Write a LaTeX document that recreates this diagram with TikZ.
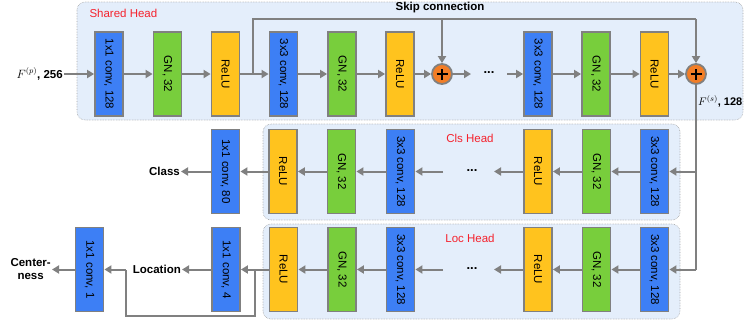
\documentclass[tikz,border=0pt]{standalone}
\usepackage{fontspec}
\usepackage{graphicx}
\setmainfont{Liberation Sans}
\usetikzlibrary{arrows.meta}
\definecolor{cblue}{HTML}{3D7FF5}
\definecolor{cgreen}{HTML}{78CE3C}
\definecolor{cyellow}{HTML}{FFC31E}
\definecolor{corange}{HTML}{F27D26}
\definecolor{cbg}{HTML}{E4EEFB}
\definecolor{cline}{HTML}{808080}
\definecolor{cred}{HTML}{F5222D}
\tikzset{
  blk/.style={draw=cline, line width=1.8pt, minimum width=28pt, minimum height=84pt, inner sep=0pt, font=\fontsize{11.5}{13}\selectfont},
  bl/.style={blk, fill=cblue},
  gn/.style={blk, fill=cgreen},
  re/.style={blk, fill=cyellow},
  plusnode/.style={circle, draw=cline, line width=1.8pt, fill=corange, minimum size=20pt, inner sep=0pt},
  bgbox/.style={draw=cline!70, densely dotted, line width=0.6pt, fill=cbg, rounded corners=8pt},
  arr/.style={draw=cline, line width=2pt, -{Triangle[length=7pt,width=8pt]}},
  ln/.style={draw=cline, line width=2pt},
  headlbl/.style={text=cred, font=\fontsize{11.5}{13}\selectfont},
  lbl/.style={font=\bfseries\fontsize{11.5}{13}\selectfont, inner sep=1pt},
  dots/.style={font=\bfseries\fontsize{13}{14}\selectfont, inner sep=0pt}
}
\newcommand{\rt}[1]{\rotatebox{-90}{#1}}
\begin{document}
\begin{tikzpicture}[x=1pt,y=-1pt]
\useasboundingbox (0,0) rectangle (744,325);
% backgrounds
\draw[bgbox] (77,2) rectangle (743,120);
\draw[bgbox] (263,124) rectangle (680,220);
\draw[bgbox] (263,224) rectangle (680,319);
\node[headlbl, anchor=west] (shl) at (86,13) {Shared Head};
\node[headlbl] (cll) at (470,138) {Cls Head};
\node[headlbl] (lcl) at (470,238) {Loc Head};
\node[lbl] (skl) at (440,8) {Skip connection};

% row 1
\node[bl] (a1) at (109,74) {\rt{1x1 conv, 128}};
\node[gn] (a2) at (167.5,74) {\rt{GN, 32}};
\node[re] (a3) at (225.5,74) {\rt{ReLU}};
\node[bl] (a4) at (283.5,74) {\rt{3x3 conv, 128}};
\node[gn] (a5) at (342,74) {\rt{GN, 32}};
\node[re] (a6) at (400,74) {\rt{ReLU}};
\node[plusnode] (p1) at (442,74) {};
\node[dots] (d1) at (489,73) {...};
\node[bl] (a7) at (538,74) {\rt{3x3 conv, 128}};
\node[gn] (a8) at (596,74) {\rt{GN, 32}};
\node[re] (a9) at (654.5,74) {\rt{ReLU}};
\node[plusnode] (p2) at (696,74) {};
\foreach \p in {p1,p2}{
  \draw[line width=1.8pt] ([xshift=-5.5pt]\p.center) -- ([xshift=5.5pt]\p.center);
  \draw[line width=1.8pt] ([yshift=-5.5pt]\p.center) -- ([yshift=5.5pt]\p.center);
}
\node[anchor=east, inner sep=1pt, font=\fontsize{11.5}{13}\selectfont] (fp) at (64,74) {$F^{(p)}$\textbf{, 256}};
\node[anchor=east, inner sep=0pt, font=\fontsize{11}{13}\selectfont] (fs) at (742.5,101) {$F^{(s)}$\textbf{, 128}};

\draw[arr] (fp.east) -- (a1.west);
\draw[arr] (a1) -- (a2);
\draw[arr] (a2) -- (a3);
\draw[arr] (a3) -- (a4);
\draw[arr] (a4) -- (a5);
\draw[arr] (a5) -- (a6);
\draw[arr] (a6) -- (p1);
\coordinate (d1w) at (471,74);
\coordinate (d1e) at (507,74);
\draw[arr] (p1.east) -- (d1w);
\draw[arr] (d1e) -- (a7.west);
\draw[arr] (a7) -- (a8);
\draw[arr] (a8) -- (a9);
\draw[arr] (a9) -- (p2);
% skip
\coordinate (s0) at (253,74);
\coordinate (s1) at (253,19);
\coordinate (s2) at (696,19);
\coordinate (s3) at (442,19);
\draw[ln] (s0) -- (s1) -- (s2);
\draw[arr] (s2) -- (p2.north);
\draw[arr] (s3) -- (p1.north);

% row 2 (cls)
\node[bl] (b1) at (654.5,171.5) {\rt{3x3 conv, 128}};
\node[gn] (b2) at (596.5,171.5) {\rt{GN, 32}};
\node[re] (b3) at (538,171.5) {\rt{ReLU}};
\node[dots] (d2) at (472,170.5) {...};
\node[bl] (b4) at (400.5,171.5) {\rt{3x3 conv, 128}};
\node[gn] (b5) at (341.5,171.5) {\rt{GN, 32}};
\node[re] (b6) at (283,171.5) {\rt{ReLU}};
\node[bl] (b7) at (225.5,171.5) {\rt{1x1 conv, 80}};
\node[lbl, anchor=east] (cls) at (181,171.5) {Class};
\coordinate (v2) at (696,171.5);
\coordinate (v3) at (696,269.5);
\draw[ln] (p2.south) -- (v3);
\draw[arr] (v2) -- (b1.east);
\draw[arr] (b1) -- (b2);
\draw[arr] (b2) -- (b3);
\coordinate (d2e) at (494,171.5);
\coordinate (d2w) at (443,171.5);
\draw[arr] (b3.west) -- (d2e);
\draw[arr] (d2w) -- (b4.east);
\draw[arr] (b4) -- (b5);
\draw[arr] (b5) -- (b6);
\draw[arr] (b6) -- (b7);
\draw[arr] (b7.west) -- (cls.east);

% row 3 (loc)
\node[bl] (c1) at (654.5,269.5) {\rt{3x3 conv, 128}};
\node[gn] (c2) at (596.5,269.5) {\rt{GN, 32}};
\node[re] (c3) at (538,269.5) {\rt{ReLU}};
\node[dots] (d3) at (472,268.5) {...};
\node[bl] (c4) at (400.5,269.5) {\rt{3x3 conv, 128}};
\node[gn] (c5) at (342,269.5) {\rt{GN, 32}};
\node[re] (c6) at (283.5,269.5) {\rt{ReLU}};
\node[bl] (c7) at (226,269.5) {\rt{1x1 conv, 4}};
\node[lbl, anchor=east] (loc) at (182,269.5) {Location};
\node[bl] (c8) at (89.5,269.5) {\rt{1x1 conv, 1}};
\node[lbl, anchor=east, align=center] (ctr) at (52,269.5) {Center-\\ness};
\draw[arr] (v3) -- (c1.east);
\draw[arr] (c1) -- (c2);
\draw[arr] (c2) -- (c3);
\coordinate (d3e) at (494,269.5);
\coordinate (d3w) at (443,269.5);
\draw[arr] (c3.west) -- (d3e);
\draw[arr] (d3w) -- (c4.east);
\draw[arr] (c4) -- (c5);
\draw[arr] (c5) -- (c6);
\draw[arr] (c6) -- (c7);
\draw[arr] (c7.west) -- (loc.east);
\coordinate (k0) at (255,269.5);
\coordinate (k1) at (255,316);
\coordinate (k2) at (126,316);
\coordinate (k3) at (126,269.5);
\draw[ln] (k0) -- (k1) -- (k2) -- (k3);
\draw[arr] (k3) -- (c8.east);
\draw[arr] (c8.west) -- (ctr.east);
\end{tikzpicture}
\end{document}
